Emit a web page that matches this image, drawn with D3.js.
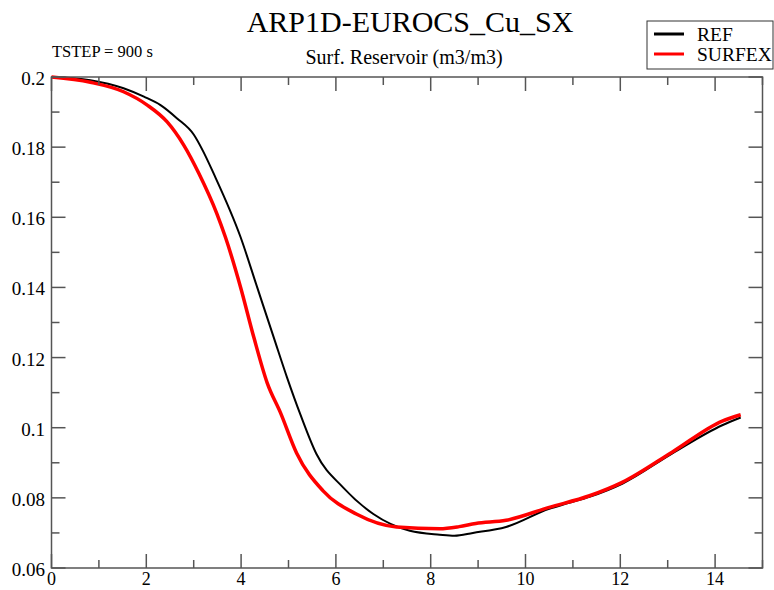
<!DOCTYPE html>
<html>
<head>
<meta charset="utf-8">
<script src="https://cdn.jsdelivr.net/npm/d3@7"></script>
<style>
  body { margin: 0; background: #fff; }
  svg text { font-family: "Liberation Serif", "DejaVu Serif", serif; }
</style>
</head>
<body>
<script>
const width = 774;
const height = 590;
const serif = "'Liberation Serif', 'DejaVu Serif', serif";

// Data (time in hours, reservoir in m3/m3)
const refX = [0, 0.82, 1.52, 1.95, 2.3, 2.65, 3.0, 3.2, 3.42, 3.99, 4.34, 4.69, 4.97, 5.25, 5.59, 6.15, 6.79, 7.56, 8.19, 8.5, 8.89, 9.59, 10.5, 10.9, 11.35, 12.05, 13.1, 14.15, 14.54];
const refY = [0.2, 0.1991, 0.1968, 0.1944, 0.192, 0.1882, 0.1836, 0.1788, 0.1725, 0.1543, 0.140, 0.1257, 0.1143, 0.1038, 0.0925, 0.083, 0.0754, 0.0706, 0.0695, 0.0692, 0.070, 0.0717, 0.0769, 0.0785, 0.0803, 0.0841, 0.0927, 0.1007, 0.1029];

const sfxX = [0, 0.82, 1.52, 2.02, 2.44, 2.79, 3.11, 3.49, 3.67, 3.99, 4.27, 4.55, 4.83, 5.17, 5.73, 6.43, 7.28, 8.19, 8.6, 8.95, 9.59, 10.5, 11.35, 12.05, 13.1, 14.15, 14.54];
const sfxY = [0.2, 0.1985, 0.1958, 0.192, 0.1872, 0.1806, 0.1725, 0.161, 0.1543, 0.140, 0.1257, 0.1128, 0.1043, 0.0928, 0.082, 0.0754, 0.0717, 0.0712, 0.0718, 0.0727, 0.0736, 0.0773, 0.0806, 0.0845, 0.0931, 0.1019, 0.1037];

const series = [
  { name: "REF", color: "#000", width: 2, xs: refX, ys: refY },
  { name: "SURFEX", color: "#f00", width: 3.5, xs: sfxX, ys: sfxY }
];

const xMajor = [0, 2, 4, 6, 8, 10, 12, 14];
const yMajor = [0.06, 0.08, 0.1, 0.12, 0.14, 0.16, 0.18, 0.2];

const margin = { left: 51.5, right: 11.5, top: 77, bottom: 22 };
const x = d3.scaleLinear().domain([0, 15]).range([margin.left, width - margin.right]);
const y = d3.scaleLinear().domain([0.06, 0.2]).range([height - margin.bottom, margin.top]);

const svg = d3.select("body").append("svg")
  .attr("width", width)
  .attr("height", height)
  .attr("font-family", serif);

// Titles
svg.append("text")
  .attr("x", 410).attr("y", 32)
  .attr("text-anchor", "middle")
  .attr("font-size", 30)
  .text("ARP1D-EUROCS_Cu_SX");

svg.append("text")
  .attr("x", 404).attr("y", 64)
  .attr("text-anchor", "middle")
  .attr("font-size", 20)
  .text("Surf. Reservoir (m3/m3)");

svg.append("text")
  .attr("x", 52).attr("y", 57)
  .attr("font-size", 16.5)
  .text("TSTEP = 900 s");

// Curves
const line = d3.line()
  .x(d => x(d[0]))
  .y(d => y(d[1]))
  .curve(d3.curveMonotoneX);

svg.append("g")
  .selectAll("path")
  .data(series)
  .enter()
  .append("path")
  .attr("d", d => line(d.xs.map((v, i) => [v, d.ys[i]])))
  .attr("fill", "none")
  .attr("stroke", d => d.color)
  .attr("stroke-width", d => d.width)
  .attr("stroke-linejoin", "round");

// Axes (ticks drawn inward on all four sides)
const axisColor = "#555";
const major = 14, minor = 8;
const xTicks = d3.range(0, 16, 1);
const yTicks = d3.range(0, 15, 1).map(i => 0.06 + i * 0.01);

const axes = svg.append("g").attr("stroke", axisColor).attr("stroke-width", 1.5);

axes.append("rect")
  .attr("x", x(0)).attr("y", y(0.2))
  .attr("width", x(15) - x(0)).attr("height", y(0.06) - y(0.2))
  .attr("fill", "none");

xTicks.forEach(t => {
  const len = t % 2 === 0 ? major : minor;
  axes.append("line").attr("x1", x(t)).attr("x2", x(t)).attr("y1", y(0.06)).attr("y2", y(0.06) - len);
  axes.append("line").attr("x1", x(t)).attr("x2", x(t)).attr("y1", y(0.2)).attr("y2", y(0.2) + len);
});

yTicks.forEach((t, i) => {
  const len = i % 2 === 0 ? major : minor;
  axes.append("line").attr("y1", y(t)).attr("y2", y(t)).attr("x1", x(0)).attr("x2", x(0) + len);
  axes.append("line").attr("y1", y(t)).attr("y2", y(t)).attr("x1", x(15)).attr("x2", x(15) - len);
});

// Tick labels
svg.append("g").selectAll("text")
  .data(xMajor).enter().append("text")
  .attr("x", d => x(d))
  .attr("y", 585)
  .attr("text-anchor", "middle")
  .attr("font-size", 18)
  .text(d => d);

svg.append("g").selectAll("text")
  .data(yMajor).enter().append("text")
  .attr("x", 45)
  .attr("y", d => y(d) + 8)
  .attr("text-anchor", "end")
  .attr("font-size", 19)
  .text(d => d3.format("~g")(d));

// Legend
const legend = svg.append("g");
legend.append("rect")
  .attr("x", 647).attr("y", 21)
  .attr("width", 126).attr("height", 48)
  .attr("fill", "#fff")
  .attr("stroke", "#333")
  .attr("stroke-width", 1);

series.forEach((s, i) => {
  const ly = 34 + i * 20;
  legend.append("line")
    .attr("x1", 654).attr("x2", 684)
    .attr("y1", ly).attr("y2", ly)
    .attr("stroke", s.color)
    .attr("stroke-width", 3);
  legend.append("text")
    .attr("x", 697).attr("y", ly + 7)
    .attr("font-size", 19.5)
    .text(s.name);
});
</script>
</body>
</html>
